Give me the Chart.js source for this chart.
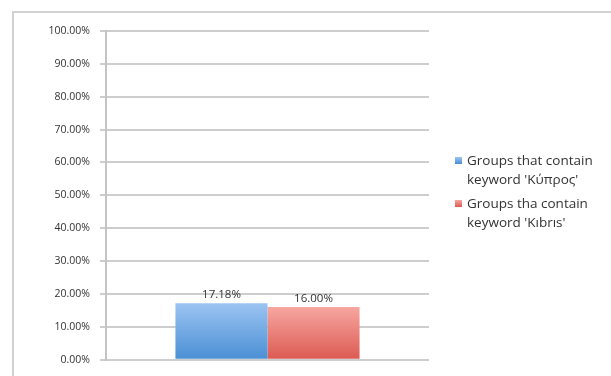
<!DOCTYPE html>
<html>
<head>
<meta charset="utf-8">
<script src="https://cdn.jsdelivr.net/npm/chart.js@4.4.0/dist/chart.umd.min.js"></script>
<style>
  body { margin: 0; background: #fff; }
  #wrap { position: relative; width: 611px; height: 376px; overflow: hidden; }
  #frame { position: absolute; left: 12px; top: 11px; width: 700px; height: 500px;
           border-left: 2px solid #d2d2d2; border-top: 2px solid #d2d2d2; }
  #chart { position: absolute; left: 0; top: 0; }
  .leg { position: absolute; left: 455px; font: 13.5px "Open Sans", sans-serif; color: #333; line-height: 19px; }
  .leg span.box { position: absolute; left: 0; top: 6px; width: 7px; height: 7px; }
  .leg div { margin-left: 12px; white-space: nowrap; }
</style>
</head>
<body>
<div id="wrap">
  <div id="frame"></div>
  <canvas id="chart" width="611" height="376"></canvas>
</div>
<script>
// values
const categories = [''];
const seriesNames = [
  ["Groups that contain", "keyword 'Κύπρος'"],
  ["Groups tha contain", "keyword 'Kıbrıs'"]
];
const kyprosValues = [17.18];
const kibrisValues = [16.00];
const yTicks = [0, 10, 20, 30, 40, 50, 60, 70, 80, 90, 100];

const topColors = ['#9cc4f2', '#f6a6a0'];
const bottomColors = ['#4a8fd5', '#dc5a52'];
const legendTops = [151, 194];

function barFill(i) {
  return (ctx) => {
    const chart = ctx.chart;
    const y = chart.scales.y;
    if (!y || !chart.chartArea) return bottomColors[i];
    const g = chart.ctx.createLinearGradient(0, y.getPixelForValue(ctx.raw || 0), 0, y.getPixelForValue(0));
    g.addColorStop(0, topColors[i]);
    g.addColorStop(1, bottomColors[i]);
    return g;
  };
}

// labels above bars
const valueLabels = {
  id: 'valueLabels',
  afterDatasetsDraw(chart) {
    const c = chart.ctx;
    c.save();
    c.font = '11.5px "Open Sans", sans-serif';
    c.fillStyle = '#333';
    c.textAlign = 'center';
    c.textBaseline = 'bottom';
    chart.data.datasets.forEach((ds, i) => {
      chart.getDatasetMeta(i).data.forEach((bar, j) => {
        c.fillText(ds.data[j].toFixed(2) + '%', bar.x, bar.y - 3);
      });
    });
    c.restore();
  }
};

new Chart(document.getElementById('chart'), {
  type: 'bar',
  data: {
    labels: categories,
    datasets: [
      { label: seriesNames[0].join(' '), data: kyprosValues, backgroundColor: barFill(0) },
      { label: seriesNames[1].join(' '), data: kibrisValues, backgroundColor: barFill(1) }
    ]
  },
  options: {
    responsive: false,
    animation: false,
    layout: { padding: { top: 31, right: 182, bottom: 14, left: 0 } },
    datasets: { bar: { categoryPercentage: 0.57, barPercentage: 1 } },
    plugins: { legend: { display: false }, tooltip: { enabled: false } },
    scales: {
      x: { display: false },
      y: {
        min: 0, max: 100,
        afterFit: (s) => { s.width = 106; },
        afterBuildTicks: (s) => { s.ticks = yTicks.map(v => ({ value: v })); },
        border: { color: '#c4c4c4', width: 2 },
        grid: { color: '#cdcdcd', lineWidth: 2, tickLength: 6 },
        ticks: {
          padding: 10,
          color: '#333',
          font: { family: '"Open Sans", sans-serif', size: 10.5 },
          callback: (v) => v.toFixed(2) + '%'
        }
      }
    }
  },
  plugins: [valueLabels]
});

// legend built from the series names
const wrap = document.getElementById('wrap');
seriesNames.forEach((lines, i) => {
  const el = document.createElement('div');
  el.className = 'leg';
  el.style.top = legendTops[i] + 'px';
  el.innerHTML = '<span class="box" style="background:linear-gradient(' + topColors[i] + ',' + bottomColors[i] + ')"></span>' +
    lines.map(t => '<div>' + t.replace(/&/g, '&amp;').replace(/</g, '&lt;') + '</div>').join('');
  wrap.appendChild(el);
});
</script>
</body>
</html>
